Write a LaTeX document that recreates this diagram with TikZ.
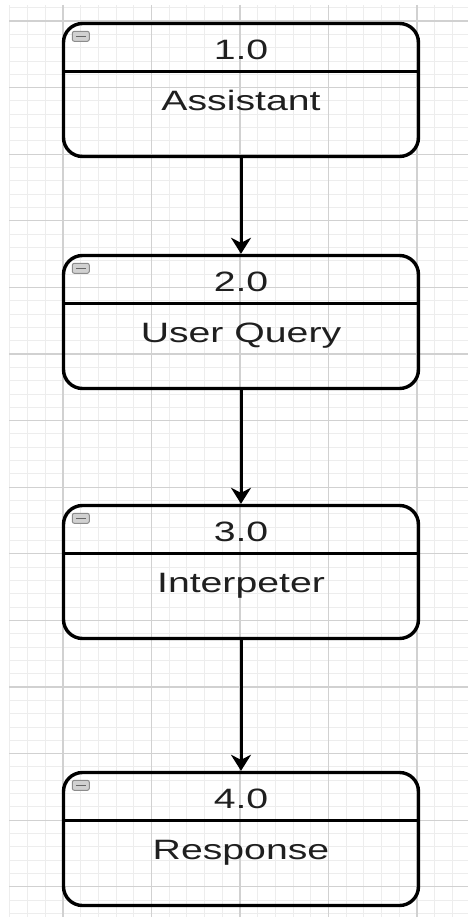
\documentclass[tikz,border=0pt]{standalone}
\usepackage{fontspec}
\setmainfont{Liberation Sans}
\usetikzlibrary{arrows.meta}

\begin{document}
\begin{tikzpicture}[
	x=1pt, y=-1pt,
	proc/.style = {draw, rounded corners=19pt, line width=3.4pt, minimum width=355pt, minimum height=133pt, inner sep=0pt},
	txt/.style = {anchor=base, font=\fontsize{28}{32}\selectfont, text=black!88, inner sep=0pt},
	toggle/.style = {draw=black!45, fill=black!18, rounded corners=2pt, line width=1pt, minimum width=17pt, minimum height=10pt, inner sep=0pt},
	flow/.style = {line width=3pt, -{Stealth[length=16pt, width=20pt, inset=5pt]}},
	minor/.style = {draw=black!7, line width=0.9pt},
	major/.style = {draw=black!18, line width=1.2pt},
	]
	\useasboundingbox (0,0) rectangle (468,917);
	\foreach \k in {-3,...,22} \draw[minor] ({63+17.7*\k},5) -- ({63+17.7*\k},917);
	\foreach \k in {-1,...,67} \draw[minor] (9,{21+13.32*\k}) -- (468,{21+13.32*\k});
	\foreach \k in {0,...,4} \draw[major] ({63+88.5*\k},5) -- ({63+88.5*\k},917);
	\foreach \k in {0,...,13} \draw[major] (9,{21+66.6*\k}) -- (468,{21+66.6*\k});
	
	\foreach \y/\n/\num/\name in {90/1/1.0/Assistant, 322/2/2.0/User Query, 572/3/3.0/Interpeter, 839/4/4.0/Response} {
		\node[proc] (p\n) at (241,\y) {};
		\draw[line width=3pt] ([yshift=-50pt]p\n.north west) -- ([yshift=-50pt]p\n.north east);
		\node[toggle] (t\n) at ([xshift=19pt, yshift=-14.5pt]p\n.north west) {};
		\draw[black!60, line width=1.3pt] ([xshift=-5pt]t\n.center) -- ([xshift=5pt]t\n.center);
		\node[txt] (n\n) at ([yshift=-38pt]p\n.north) {\scalebox{1.4}[1]{\num}};
		\node[txt] (l\n) at ([yshift=-89pt]p\n.north) {\scalebox{1.4}[1]{\name}};
	}
	\foreach \a/\b in {1/2, 2/3, 3/4} \draw[flow] (p\a) -- (p\b);
\end{tikzpicture}
\end{document}
